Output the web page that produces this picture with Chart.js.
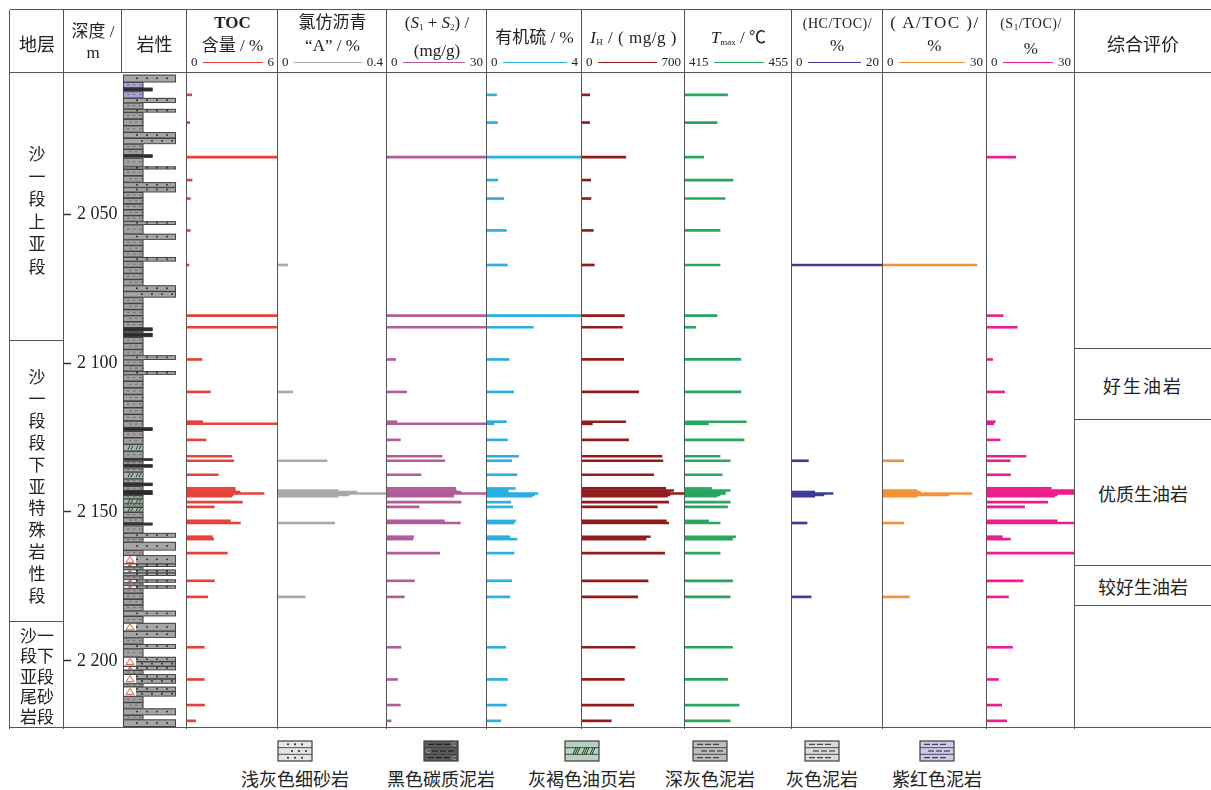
<!DOCTYPE html>
<html><head><meta charset="utf-8">
<script src="https://cdn.jsdelivr.net/npm/chart.js@4.4.1/dist/chart.umd.min.js"></script>
<style>
body{margin:0;background:#fff;width:1211px;height:790px;overflow:hidden;position:relative;font-family:"Liberation Serif","Noto Sans CJK SC",serif;color:#222}
canvas{position:absolute}
.vl{position:absolute;width:0;border-left:1.8px solid #555;z-index:5}
.hl{position:absolute;height:0;border-top:1.8px solid #555;z-index:5}
.t{position:absolute;text-align:center;white-space:nowrap;z-index:6}
.sc{position:absolute;top:55px;height:14px;display:flex;align-items:center;font-size:13px;z-index:6}
.sc .ln{flex:1;height:0;margin:0 5px}
sub{font-size:9px;vertical-align:-2px}
.vt{position:absolute;text-align:center;font-family:"Noto Sans CJK SC";font-size:17px;z-index:6}
.lg{position:absolute;top:765px;font-family:"Noto Sans CJK SC";font-size:18px;text-align:center;white-space:nowrap}
</style></head><body>
<div id="plot"></div>
<div id="lines"></div>

<!-- header -->
<div class="t" style="left:10px;width:54px;top:30px;font-size:18px;font-family:'Noto Sans CJK SC'">地层</div>
<div class="t" style="left:64px;width:58px;top:21px;font-size:17px;line-height:21px">深度 /<br>m</div>
<div class="t" style="left:122px;width:65px;top:30px;font-size:18px;font-family:'Noto Sans CJK SC'">岩性</div>
<div class="t" style="left:187px;width:91px;top:11px;font-size:17px;line-height:23px"><b>TOC</b><br>含量 / %</div>
<div class="t" style="left:278px;width:109px;top:11px;font-size:17px;line-height:23px">氯仿沥青<br>&ldquo;A&rdquo; / %</div>
<div class="t" style="left:387px;width:100px;top:11px;font-size:17px;line-height:23px">(<i>S</i><sub>1</sub> + <i>S</i><sub>2</sub>) /<br>(mg/g)</div>
<div class="t" style="left:487px;width:95px;top:27px;font-size:17px;line-height:22px">有机硫 / %</div>
<div class="t" style="left:582px;width:103px;top:27px;font-size:17px;line-height:22px;letter-spacing:0.5px"><i>I</i><sub>H</sub> / ( mg/g )</div>
<div class="t" style="left:685px;width:107px;top:27px;font-size:17px;line-height:22px"><i>T</i><sub>max</sub> / ℃</div>
<div class="t" style="left:792px;width:91px;top:13px;font-size:14px;line-height:22px;letter-spacing:0.6px">(HC/TOC)/<br><span style="font-size:17px">%</span></div>
<div class="t" style="left:883px;width:104px;top:11px;font-size:17px;line-height:23px;letter-spacing:1.5px">( A/TOC )/<br>%</div>
<div class="t" style="left:987px;width:88px;top:13px;font-size:14px;line-height:22px;letter-spacing:0.5px">(S<sub>1</sub>/TOC)/<br><span style="font-size:17px">%</span></div>
<div class="t" style="left:1075px;width:136px;top:30px;font-size:18px;font-family:'Noto Sans CJK SC'">综合评价</div>

<!-- stratigraphy column -->
<div class="vt" style="left:10px;width:54px;top:142px;line-height:22.5px">沙<br>一<br>段<br>上<br>亚<br>段</div>
<div class="vt" style="left:10px;width:54px;top:365px;line-height:21.9px">沙<br>一<br>段<br>段<br>下<br>亚<br>特<br>殊<br>岩<br>性<br>段</div>
<div class="vt" style="left:10px;width:54px;top:625px;line-height:20.3px">沙一<br>段下<br>亚段<br>尾砂<br>岩段</div>

<!-- evaluation column -->
<div class="t" style="left:1075px;width:136px;top:372px;font-size:18px;font-family:'Noto Sans CJK SC';letter-spacing:2px">好生油岩</div>
<div class="t" style="left:1075px;width:136px;top:480px;font-size:18px;font-family:'Noto Sans CJK SC'">优质生油岩</div>
<div class="t" style="left:1075px;width:136px;top:573px;font-size:18px;font-family:'Noto Sans CJK SC'">较好生油岩</div>

<div id="legend"></div>

<script>
// ---------------- data ----------------
const depthTicks = [2050, 2100, 2150, 2200];
const depthRange = [2003, 2222.5];

// sample depths (m)
const depths = [2010.0,2019.3,2030.9,2038.6,2044.8,2055.5,2067.1,2084.1,2088.0,2098.8,
  2109.7,2119.7,2120.4,2125.8,2131.3,2132.8,2137.5,2142.1,2142.8,2143.3,
  2143.8,2144.3,2144.7,2146.7,2148.3,2153.0,2153.7,2158.3,2159.1,2163.8,
  2173.1,2178.5,2195.4,2206.2,2214.8,2220.1];

const tocVals = [0.31,0.18,6,0.33,0.22,0.22,0.13,6,6,0.99,
  1.54,1.03,6,1.25,2.95,3.08,2.07,3.17,3.2,3.5,
  5.08,3.05,2.95,3.65,1.8,2.86,3.52,1.67,1.76,2.66,
  1.8,1.36,1.14,1.14,1.16,0.57];
const asphaltA = [null,null,null,null,null,null,0.036,null,null,null,
  0.054,null,null,null,null,0.18,null,null,0.22,0.29,
  0.4,0.26,0.22,null,null,null,0.208,null,null,null,
  null,0.10,null,null,null,null];
const s1s2Vals = [null,null,30,null,null,null,null,30,30,2.6,
  5.9,3.0,30,4.0,16.5,17.3,10.2,20.6,20.8,22.2,
  30,20,20,22.2,9.6,17.2,22,8,7.8,15.8,
  8.2,5.2,4.2,3.2,4.0,1.2];
const orgSulfur = [0.40,0.44,4,0.46,0.70,0.82,0.86,4,1.95,0.93,
  1.12,0.82,0.29,0.86,1.33,1.04,1.26,1.19,0.88,0.9,
  2.15,2.0,1.9,1.0,1.08,1.21,1.14,0.96,1.26,1.14,
  1.04,0.96,0.79,0.86,0.82,0.58];
const ihVals = [52,52,297,59,61,77,84,288,274,283,
  385,297,70,317,544,550,487,569,623,598,
  700,598,580,589,512,573,589,464,435,562,
  449,378,360,288,351,199];
const tmaxVals = [430.9,427,422,432.9,430,428.1,428.1,427,419,435.9,
  435.9,437.9,423.8,437.1,428.1,431.9,428.9,424.9,431.9,430,
  430.1,428.1,427,431.9,430.9,423.8,428.1,433.9,432.8,428.1,
  432.8,431.9,432.8,430.9,435.2,431.9];
const hcTocVals = [null,null,null,null,null,null,20,null,null,null,
  null,null,null,null,null,3.6,null,null,null,5.0,
  9.0,7.0,5.0,null,null,null,3.3,null,null,null,
  null,4.2,null,null,null,null];
const aTocVals = [null,null,null,null,null,null,27.1,null,null,null,
  null,null,null,null,null,6.0,null,null,9.8,10.8,
  25.7,19,9.8,null,null,null,6.0,null,null,null,
  null,7.6,null,null,null,null];
const s1TocVals = [null,null,9.8,null,null,null,null,5.5,10.3,1.9,
  6.0,2.8,2.3,4.5,13.3,7.9,8.0,21.9,30,30,
  30,23.9,23,20.7,12.8,23.9,29.9,5.2,8.0,30,
  12.3,7.3,8.7,3.9,5.0,6.7];

// axis ranges of the nine tracks
const trackMin = [0,0,0,0,0,415,0,0,0];
const trackMax = [6,0.4,30,4,700,455,20,30,30];

// lithology intervals
const litTop = [2003.2,2005.7,2007.6,2008.8,2011.0,2012.6,2014.7,2015.8,2022.5,2026.4,
  2030.0,2031.1,2034.0,2034.9,2039.3,2041.0,2042.6,2052.4,2053.5,2056.6,
  2058.5,2064.4,2065.8,2073.9,2077.9,2088.1,2089.3,2089.9,2091.3,2097.4,
  2098.8,2102.7,2103.8,2121.6,2122.8,2127.2,2129.5,2132.0,2132.8,2134.0,
  2135.1,2136.5,2138.8,2140.2,2141.3,2142.7,2144.3,2145.5,2147.1,2148.3,
  2150.0,2153.6,2154.5,2157.0,2158.5,2160.0,2162.8,2164.5,2167.3,2168.3,
  2169.3,2170.3,2171.3,2172.6,2173.6,2174.6,2175.6,2177.2,2183.1,2184.9,
  2187.2,2189.9,2192.1,2194.3,2195.8,2198.6,2201.7,2203.0,2204.4,2207.5,
  2208.6,2211.8,2215.9,2218.1,2219.6];
const litBot = [2005.7,2007.6,2008.8,2011.0,2012.6,2014.7,2015.8,2022.5,2026.4,2030.0,
  2031.1,2034.0,2034.9,2039.3,2041.0,2042.6,2052.4,2053.5,2056.6,2058.5,
  2064.4,2065.8,2073.9,2077.9,2088.1,2089.3,2089.9,2091.3,2097.4,2098.8,
  2102.7,2103.8,2121.6,2122.8,2127.2,2129.5,2132.0,2132.8,2134.0,2135.1,
  2136.5,2138.8,2140.2,2141.3,2142.7,2144.3,2145.5,2147.1,2148.3,2150.0,
  2153.6,2154.5,2157.0,2158.5,2160.0,2162.8,2164.5,2167.3,2168.3,2169.3,
  2170.3,2171.3,2172.6,2173.6,2174.6,2175.6,2177.2,2183.1,2184.9,2187.2,
  2189.9,2192.1,2194.3,2195.8,2198.6,2201.7,2203.0,2204.4,2207.5,2208.6,
  2211.8,2215.9,2218.1,2219.6,2222.0];
// S sandstone, T sandstone with gravel, M grey mudstone, P purple mudstone, B black carbonaceous mudstone, O oil shale
const litType = ['S','P','B','P','S','M','S','M','S','M',
  'B','M','S','M','S','S','M','S','M','S',
  'M','S','M','S','M','B','M','B','M','S',
  'M','S','M','B','M','O','M','B','M','B',
  'M','O','M','B','M','B','M','O','M','O',
  'M','B','M','S','M','S','M','T','T','M',
  'T','S','M','T','M','T','M','M','S','M',
  'T','S','M','S','M','T','T','M','T','M',
  'T','M','S','M','S'];

const legendNames = ['浅灰色细砂岩','黑色碳质泥岩','灰褐色油页岩','深灰色泥岩','灰色泥岩','紫红色泥岩'];

// ---------------- layout / style ----------------
const colEdges = [10,64,122,187,278,387,487,582,685,792,883,987,1075,1211];
const PLOT_TOP = 74, PLOT_H = 654;
const trackColors = ['#e8403a','#a9a9a9','#b25c9c','#2aaee4','#921c1c','#27a760','#3d3d99','#f5913a','#ec1d8e'];
const trackValues = [tocVals, asphaltA, s1s2Vals, orgSulfur, ihVals, tmaxVals, hcTocVals, aTocVals, s1TocVals];
const litWidth = {S:0.83, T:0.83, M:0.33, P:0.33, O:0.33, B:0.47};
const legendX = [295,441,582,710,822,937];

Chart.defaults.animation = false;

function makeCanvas(left, top, w, h, parent) {
  const c = document.createElement('canvas');
  c.width = w; c.height = h;
  c.style.left = left + 'px'; c.style.top = top + 'px';
  c.style.width = w + 'px'; c.style.height = h + 'px';
  (parent || document.getElementById('plot')).appendChild(c);
  return c;
}
const yScaleHidden = () => ({type:'linear', min:depthRange[0], max:depthRange[1], reverse:true, offset:false, display:false});
const baseOpts = {responsive:false, animation:false, layout:{padding:0},
  plugins:{legend:{display:false}, tooltip:{enabled:false}}};

// ---------------- tracks ----------------
trackValues.forEach((vals, i) => {
  const L = colEdges[i + 3], R = colEdges[i + 4];
  const cv = makeCanvas(L, PLOT_TOP, R - L, PLOT_H);
  const pts = [];
  depths.forEach((d, k) => { if (vals[k] !== null) pts.push({x: vals[k], y: d}); });
  new Chart(cv, {
    type: 'bar',
    data: {datasets: [{data: pts, backgroundColor: trackColors[i], borderWidth: 0, barThickness: 2, base: trackMin[i]}]},
    options: Object.assign({}, baseOpts, {indexAxis: 'y',
      scales: {x: {type: 'linear', min: trackMin[i], max: trackMax[i], offset: false, display: false}, y: yScaleHidden()}})
  });
  // scale bar in header
  const sc = document.createElement('div');
  sc.className = 'sc';
  sc.style.left = (L + 4) + 'px'; sc.style.width = (R - L - 8) + 'px';
  sc.innerHTML = '<span>' + trackMin[i] + '</span><div class="ln" style="border-top:1.6px solid ' + trackColors[i] + '"></div><span>' + trackMax[i] + '</span>';
  document.body.appendChild(sc);
});

// ---------------- depth axis ----------------
new Chart(makeCanvas(10, PLOT_TOP, 112, PLOT_H), {
  type: 'scatter', data: {datasets: []},
  options: Object.assign({}, baseOpts, {scales: {
    x: {type: 'linear', min: 0, max: 1, display: false},
    y: {type: 'linear', position: 'right', reverse: true, offset: false, min: depthRange[0], max: depthRange[1],
      afterBuildTicks: s => { s.ticks = depthTicks.map(v => ({value: v})); },
      afterFit: s => { s.width = 58; s.paddingTop = 0; s.paddingBottom = 0; },
      grid: {drawOnChartArea: false, tickLength: 7, tickColor: '#333', tickWidth: 1.5},
      border: {display: false},
      ticks: {padding: 6, color: '#222', font: {family: 'Liberation Serif', size: 18},
        callback: v => String(v).replace(/^(\d)(\d{3})$/, '$1 $2')}
    }}})
});

// ---------------- lithology column ----------------
function drawLitho(ctx, x0, y0, x1, y1, t) {
  const h = y1 - y0, w = x1 - x0;
  const fill = {S:'#a5a5a5', T:'#a5a5a5', M:'#a0a0a0', P:'#aba3dd', B:'#2a2a2a', O:'#a3b9aa'}[t];
  ctx.save();
  ctx.fillStyle = fill; ctx.fillRect(x0, y0, w, h);
  ctx.strokeStyle = '#3a3a3a'; ctx.lineWidth = 0.9;
  if (t === 'B') { ctx.strokeRect(x0 + 0.5, y0 + 0.5, w - 1, Math.max(h - 1, 0.5)); ctx.restore(); return; }
  const sand = (t === 'S' || t === 'T');
  const n = Math.max(1, Math.round(h / (sand ? 6 : 6.4)));
  const rh = h / n;
  for (let r = 0; r < n; r++) {
    const ry = y0 + r * rh, cy = ry + rh / 2;
    ctx.strokeStyle = '#3a3a3a';
    ctx.strokeRect(x0 + 0.5, ry + 0.5, w - 1, Math.max(rh - 0.5, 0.5));
    if (sand) {
      ctx.fillStyle = '#1e1e1e';
      const off = (r % 2) ? 5 : 0;
      for (let k = 0; k < 4; k++) {
        const px = x0 + 14 + off + k * 10;
        if (px < x1 - 3) { ctx.beginPath(); ctx.arc(px, cy, 0.9, 0, 6.3); ctx.fill(); }
      }
    } else if (t === 'O') {
      ctx.strokeStyle = '#223322'; ctx.lineWidth = 0.9;
      [5, 8, 13, 16].forEach(dx => { ctx.beginPath(); ctx.moveTo(x0 + dx, cy + 2); ctx.lineTo(x0 + dx + 2, cy - 2); ctx.stroke(); });
      ctx.lineWidth = 0.9;
    } else {
      ctx.strokeStyle = '#5a5a5a'; ctx.lineWidth = 0.8;
      const off = (r % 2) ? 2 : 0;
      [4, 10, 16].forEach(dx => { ctx.beginPath(); ctx.moveTo(x0 + dx + off, cy); ctx.lineTo(x0 + dx + off + 2.5, cy); ctx.stroke(); });
      ctx.lineWidth = 0.9;
    }
  }
  if (t === 'T') {
    const bw = 12;
    ctx.fillStyle = '#fff'; ctx.fillRect(x0 + 1, y0 + 1, bw, h - 1.5);
    ctx.strokeStyle = '#d8452f'; ctx.lineWidth = 0.9;
    const th = Math.min(h - 2, 6), cx = x0 + 1 + bw / 2, cy = y0 + h / 2;
    ctx.beginPath(); ctx.moveTo(cx, cy - th / 2); ctx.lineTo(cx + th / 2 + 1, cy + th / 2); ctx.lineTo(cx - th / 2 - 1, cy + th / 2); ctx.closePath(); ctx.stroke();
  }
  ctx.restore();
}
new Chart(makeCanvas(122, PLOT_TOP, 65, PLOT_H), {
  type: 'scatter', data: {datasets: []},
  options: Object.assign({}, baseOpts, {scales: {x: {type: 'linear', min: 0, max: 1, display: false}, y: yScaleHidden()}}),
  plugins: [{id: 'litho', afterDatasetsDraw(chart) {
    const {ctx, scales: {x, y}} = chart;
    for (let i = 0; i < litTop.length; i++) {
      drawLitho(ctx, x.getPixelForValue(0.015), y.getPixelForValue(litTop[i]),
        x.getPixelForValue(litWidth[litType[i]]), y.getPixelForValue(litBot[i]), litType[i]);
    }
  }}]
});

// ---------------- frame lines ----------------
const lines = document.getElementById('lines');
function vline(x, y0, y1) { const d = document.createElement('div'); d.className = 'vl'; d.style.left = (x - 1) + 'px'; d.style.top = y0 + 'px'; d.style.height = (y1 - y0) + 'px'; lines.appendChild(d); }
function hline(y, x0, x1) { const d = document.createElement('div'); d.className = 'hl'; d.style.top = (y - 1) + 'px'; d.style.left = x0 + 'px'; d.style.width = (x1 - x0) + 'px'; lines.appendChild(d); }
hline(10, 10, 1211); hline(73, 10, 1211); hline(728, 10, 1211);
colEdges.slice(0, 13).forEach(x => { if (x !== 122) vline(x, 10, 729); });
vline(122, 10, 73);
hline(341, 10, 64); hline(622, 10, 64);
[349, 420, 566, 606].forEach(y => hline(y, 1075, 1211));

// ---------------- legend ----------------
function drawIcon(c, k) {
  const W = 36, H = 22;
  const fills = ['#e6e6e6', '#5c5c5c', '#b6d2be', '#bdbdbd', '#dadada', '#cec9ea'];
  c.fillStyle = fills[k]; c.fillRect(1, 1, W - 2, H - 2);
  c.strokeStyle = '#3d3d3d'; c.lineWidth = 1.2; c.strokeRect(1, 1, W - 2, H - 2);
  c.lineWidth = 0.9;
  const rh = (H - 2) / 3;
  for (let r = 1; r < 3; r++) { c.beginPath(); c.moveTo(1, 1 + r * rh); c.lineTo(W - 1, 1 + r * rh); c.stroke(); }
  for (let r = 0; r < 3; r++) {
    const cy = 1 + r * rh + rh / 2;
    if (k === 0) {
      c.fillStyle = '#222';
      const off = r === 1 ? 4 : 0;
      [11, 18, 25].forEach(dx => { c.beginPath(); c.arc(dx + off, cy, 1, 0, 6.3); c.fill(); });
    } else if (k === 2) {
      c.strokeStyle = '#1d2b1f'; c.lineWidth = 0.9;
      if (r === 1) [9, 11, 13, 18, 20, 22, 26, 28].forEach(dx => { c.beginPath(); c.moveTo(dx, cy + 3.5); c.lineTo(dx + 3, cy - 3.5); c.stroke(); });
      c.strokeStyle = '#3d3d3d';
    } else {
      c.strokeStyle = k === 1 ? '#1a1a1a' : '#333'; c.lineWidth = 1.1;
      const xs = (r === 1) ? [9, 17, 25] : [5, 13, 21];
      xs.forEach(dx => { c.beginPath(); c.moveTo(dx, cy); c.lineTo(dx + 6, cy); c.stroke(); });
      if (k === 1) { c.fillStyle = '#bbb'; c.font = '6px Liberation Sans'; c.fillText('C', r === 1 ? 3 : 29, cy + 2); }
      c.strokeStyle = '#3d3d3d'; c.lineWidth = 0.9;
    }
  }
}
const lg = document.getElementById('legend');
legendNames.forEach((name, k) => {
  const cv = makeCanvas(legendX[k] - 18, 740, 36, 22, lg);
  drawIcon(cv.getContext('2d'), k);
  const t = document.createElement('div');
  t.className = 'lg'; t.style.left = (legendX[k] - 70) + 'px'; t.style.width = '140px';
  t.textContent = name; lg.appendChild(t);
});
</script>
</body></html>
